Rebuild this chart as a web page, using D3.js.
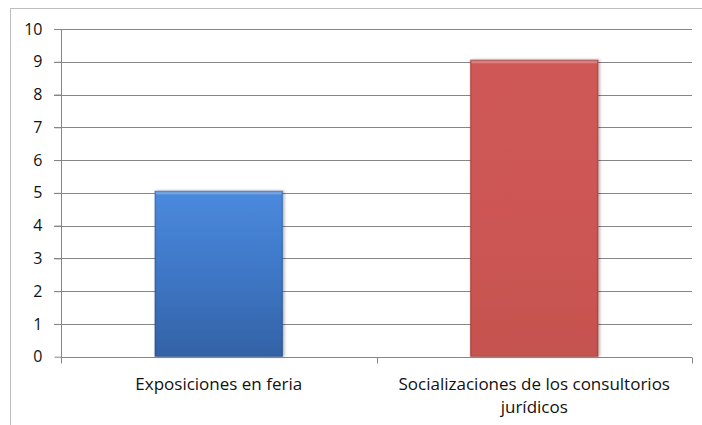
<!DOCTYPE html>
<html>
<head>
<meta charset="utf-8">
<script src="https://cdn.jsdelivr.net/npm/d3@7"></script>
<style>
  body { margin: 0; background: #fff; }
  svg { display: block; }
  text { font-family: "Open Sans", "Noto Sans", sans-serif; fill: #111; }
</style>
</head>
<body>
<svg id="chart" width="702" height="425"></svg>
<script>
document.addEventListener("DOMContentLoaded", function() {

    // Data
    const categories = ["Exposiciones en feria", "Socializaciones de los consultorios jurídicos"];
    const values = [5, 9];
    const yTicks = [0, 1, 2, 3, 4, 5, 6, 7, 8, 9, 10];
    const barColors = [
        {top: "#4b8ade", mid: "#3e77c6", bottom: "#3362a6"},
        {top: "#cf5956", mid: "#cd5754", bottom: "#c5524f"}
    ];

    // Layout
    const width = 702, height = 425;
    const margin = {top: 29, right: 10, bottom: 68, left: 61};
    const plotW = 692 - margin.left;
    const plotH = 356.7 - margin.top;

    const svg = d3.select("#chart");

    // chart border (runs off the right/bottom edges)
    svg.append("rect")
        .attr("x", 10.5).attr("y", 8.5)
        .attr("width", width + 20).attr("height", height + 20)
        .attr("fill", "none")
        .attr("stroke", "#bdbdbd");

    const defs = svg.append("defs");
    barColors.forEach((c, i) => {
        const g = defs.append("linearGradient")
            .attr("id", "grad" + i)
            .attr("x1", 0).attr("y1", 0).attr("x2", 0).attr("y2", 1);
        g.append("stop").attr("offset", "0%").attr("stop-color", c.top);
        g.append("stop").attr("offset", "50%").attr("stop-color", c.mid);
        g.append("stop").attr("offset", "100%").attr("stop-color", c.bottom);
    });
    const shadow = defs.append("filter").attr("id", "shadow")
        .attr("x", "-10%").attr("y", "-10%").attr("width", "130%").attr("height", "120%");
    shadow.append("feDropShadow")
        .attr("dx", 1.5).attr("dy", 0).attr("stdDeviation", 1.5)
        .attr("flood-color", "#000").attr("flood-opacity", 0.3);

    const g = svg.append("g")
        .attr("transform", `translate(${margin.left},${margin.top})`);

    // Scales
    const x = d3.scaleBand().domain(categories).range([0, plotW]).paddingInner(0.594).paddingOuter(0.297);
    const y = d3.scaleLinear().domain([0, 10]).range([plotH, 0]);

    // Gridlines
    g.append("g")
        .selectAll("line")
        .data(yTicks.filter(d => d > 0))
        .join("line")
        .attr("x1", -7).attr("x2", plotW)
        .attr("y1", d => Math.round(y(d)) + 0.5).attr("y2", d => Math.round(y(d)) + 0.5)
        .attr("stroke", "#868686");

    // Y axis
    const yAxis = g.append("g")
        .attr("transform", "translate(0.5,0)")
        .call(d3.axisLeft(y).tickValues(yTicks).tickSize(7).tickPadding(12).tickFormat(d3.format("d")));
    yAxis.select(".domain").attr("stroke", "#868686").attr("d", `M0,${y(10)}V${plotH + 6}`);
    yAxis.selectAll(".tick line").attr("stroke", "#868686");
    yAxis.selectAll(".tick text").style("font-size", "16px").attr("fill", "#111");

    // Bars
    const bars = g.append("g").selectAll("g")
        .data(values)
        .join("g");
    bars.append("rect")
        .attr("x", (d, i) => x(categories[i]))
        .attr("y", d => y(d) - 2)
        .attr("width", x.bandwidth())
        .attr("height", d => plotH - y(d) + 2)
        .attr("fill", (d, i) => `url(#grad${i})`)
        .attr("filter", "url(#shadow)");
    // bevel highlight on top, darker edges
    bars.append("rect")
        .attr("x", (d, i) => x(categories[i]) + 1)
        .attr("y", d => y(d) - 1.5)
        .attr("width", x.bandwidth() - 2)
        .attr("height", 3)
        .attr("fill", "#fff").attr("fill-opacity", 0.25);
    bars.append("rect")
        .attr("x", (d, i) => x(categories[i]) + 0.5)
        .attr("y", d => y(d) - 1.5)
        .attr("width", x.bandwidth() - 1)
        .attr("height", d => plotH - y(d) + 1.5)
        .attr("fill", "none")
        .attr("stroke", "#000").attr("stroke-opacity", 0.12).attr("stroke-width", 2);

    // X axis
    const xAxisY = Math.round(plotH) + 0.5;
    const xa = g.append("g").attr("transform", `translate(0,${xAxisY})`);
    xa.append("line").attr("x1", 0).attr("x2", plotW).attr("stroke", "#868686");
    xa.selectAll(".xt")
        .data([0, 1, 2])
        .join("line")
        .attr("class", "xt")
        .attr("x1", d => Math.round(d * plotW / 2) + 0.5).attr("x2", d => Math.round(d * plotW / 2) + 0.5)
        .attr("y1", 0).attr("y2", 6)
        .attr("stroke", "#868686");

    // Category labels (wrap long one)
    const labelLines = [["Exposiciones en feria"], ["Socializaciones de los consultorios", "jurídicos"]];
    categories.forEach((c, i) => {
        const t = xa.append("text")
            .attr("x", x(c) + x.bandwidth() / 2)
            .attr("y", 32)
            .attr("text-anchor", "middle")
            .style("font-size", "17px");
        labelLines[i].forEach((line, j) => {
            t.append("tspan")
                .attr("x", x(c) + x.bandwidth() / 2)
                .attr("dy", j === 0 ? 0 : 23)
                .text(line);
        });
    });

});
</script>
</body>
</html>
